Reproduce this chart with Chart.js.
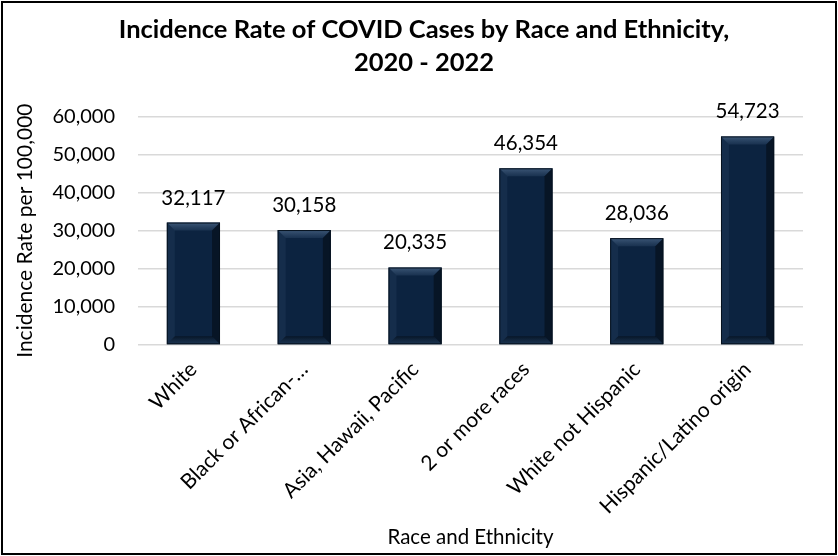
<!DOCTYPE html>
<html>
<head>
<meta charset="utf-8">
<script src="https://cdn.jsdelivr.net/npm/chart.js@4/dist/chart.umd.min.js"></script>
<style>
  html, body { margin: 0; padding: 0; background: #fff; }
  #wrap { position: relative; width: 838px; height: 556px; }
</style>
</head>
<body>
<div id="wrap"><canvas id="grafico" width="838" height="556"></canvas></div>
<script>
// dados
const categorias = ['White', 'Black or African-\u2026', 'Asia, Hawaii, Pacific', '2 or more races', 'White not Hispanic', 'Hispanic/Latino origin'];
const taxas = [32117, 30158, 20335, 46354, 28036, 54723];
const ticksY = [0, 10000, 20000, 30000, 40000, 50000, 60000];

const FONTE = 'Lato, "Liberation Sans", sans-serif';

// moldura preta em volta do gráfico; título centralizado no canvas inteiro
const moldura = {
  id: 'moldura',
  afterLayout(chart) {
    const tb = chart.titleBlock;
    if (tb) { tb.left = 0; tb.right = chart.width + 10; }
  },
  afterDraw(chart) {
    const ctx = chart.ctx;
    ctx.save();
    ctx.strokeStyle = '#000';
    ctx.lineWidth = 2;
    ctx.strokeRect(2, 2, chart.width - 4, chart.height - 4);
    ctx.restore();
  }
};

// efeito de chanfro nas barras + rótulos de valor
const chanfro = {
  id: 'chanfro',
  afterDatasetsDraw(chart) {
    const ctx = chart.ctx;
    const meta = chart.getDatasetMeta(0);
    ctx.save();
    meta.data.forEach((bar, i) => {
      const w = bar.width;
      const x0 = bar.x - w / 2, x1 = bar.x + w / 2;
      const y0 = bar.y, y1 = bar.base;
      const b = 8;
      // topo
      let g = ctx.createLinearGradient(0, y0, 0, y0 + b);
      g.addColorStop(0, 'rgba(110,140,175,0.5)');
      g.addColorStop(1, 'rgba(80,110,145,0.2)');
      ctx.fillStyle = g;
      ctx.beginPath();
      ctx.moveTo(x0, y0); ctx.lineTo(x1, y0); ctx.lineTo(x1 - b, y0 + b); ctx.lineTo(x0 + b, y0 + b); ctx.closePath();
      ctx.fill();
      // lado esquerdo
      ctx.fillStyle = 'rgba(90,120,155,0.12)';
      ctx.beginPath();
      ctx.moveTo(x0, y0); ctx.lineTo(x0 + b, y0 + b); ctx.lineTo(x0 + b, y1 - b); ctx.lineTo(x0, y1); ctx.closePath();
      ctx.fill();
      // lado direito
      ctx.fillStyle = 'rgba(0,0,0,0.4)';
      ctx.beginPath();
      ctx.moveTo(x1, y0); ctx.lineTo(x1 - b, y0 + b); ctx.lineTo(x1 - b, y1 - b); ctx.lineTo(x1, y1); ctx.closePath();
      ctx.fill();
      // base
      g = ctx.createLinearGradient(0, y1 - b, 0, y1);
      g.addColorStop(0, 'rgba(0,0,0,0.4)');
      g.addColorStop(1, 'rgba(60,90,120,0.3)');
      ctx.fillStyle = g;
      ctx.beginPath();
      ctx.moveTo(x0, y1); ctx.lineTo(x0 + b, y1 - b); ctx.lineTo(x1 - b, y1 - b); ctx.lineTo(x1, y1); ctx.closePath();
      ctx.fill();
      ctx.strokeStyle = '#06121f';
      ctx.lineWidth = 1;
      ctx.strokeRect(x0 + 0.5, y0 + 0.5, w - 1, y1 - y0 - 1);

      // valor
      ctx.fillStyle = '#000';
      ctx.font = '20.5px ' + FONTE;
      ctx.textAlign = 'center';
      ctx.textBaseline = 'alphabetic';
      ctx.fillText(taxas[i].toLocaleString('en-US'), bar.x, y0 - 18);
    });
    ctx.restore();
  }
};

const ctx = document.getElementById('grafico').getContext('2d');
new Chart(ctx, {
  type: 'bar',
  data: {
    labels: categorias,
    datasets: [{
      label: 'Incidence Rate per 100,000',
      data: taxas,
      backgroundColor: '#0c2340',
      borderWidth: 0,
      barPercentage: 0.6,
      categoryPercentage: 0.8
    }]
  },
  options: {
    responsive: false,
    animation: false,
    layout: { padding: { left: 10, right: 35, top: 0, bottom: 4 } },
    plugins: {
      legend: { display: false },
      tooltip: { enabled: false },
      title: {
        display: true,
        text: ['Incidence Rate of COVID Cases by Race and Ethnicity,', '2020 - 2022'],
        color: '#000',
        font: { family: FONTE, size: 25.5, weight: 'bold', lineHeight: 1.3 },
        padding: { top: 13, bottom: 37 }
      }
    },
    scales: {
      x: {
        grid: { display: false, drawTicks: false },
        border: { display: false },
        ticks: {
          color: '#000',
          font: { family: FONTE, size: 21 },
          minRotation: 45,
          maxRotation: 45,
          padding: 12,
          autoSkip: false
        },
        title: {
          display: true,
          text: 'Race and Ethnicity',
          color: '#000',
          font: { family: FONTE, size: 20.5 },
          padding: { top: 0, bottom: 2 }
        },
        afterFit(scale) { scale.height = 556 - 345 - 4; }
      },
      y: {
        min: 0,
        max: 60000,
        afterBuildTicks(scale) { scale.ticks = ticksY.map(v => ({ value: v })); },
        grid: { color: '#d9d9d9', lineWidth: 1.5, drawTicks: false },
        border: { display: false },
        ticks: {
          color: '#000',
          font: { family: FONTE, size: 20 },
          padding: 23,
          callback: v => v.toLocaleString('en-US')
        },
        title: {
          display: true,
          text: 'Incidence Rate per 100,000',
          color: '#000',
          font: { family: FONTE, size: 21 },
          padding: { top: 3, bottom: 0 }
        },
        afterFit(scale) { scale.width = 128; }
      }
    }
  },
  plugins: [moldura, chanfro]
});
</script>
</body>
</html>
